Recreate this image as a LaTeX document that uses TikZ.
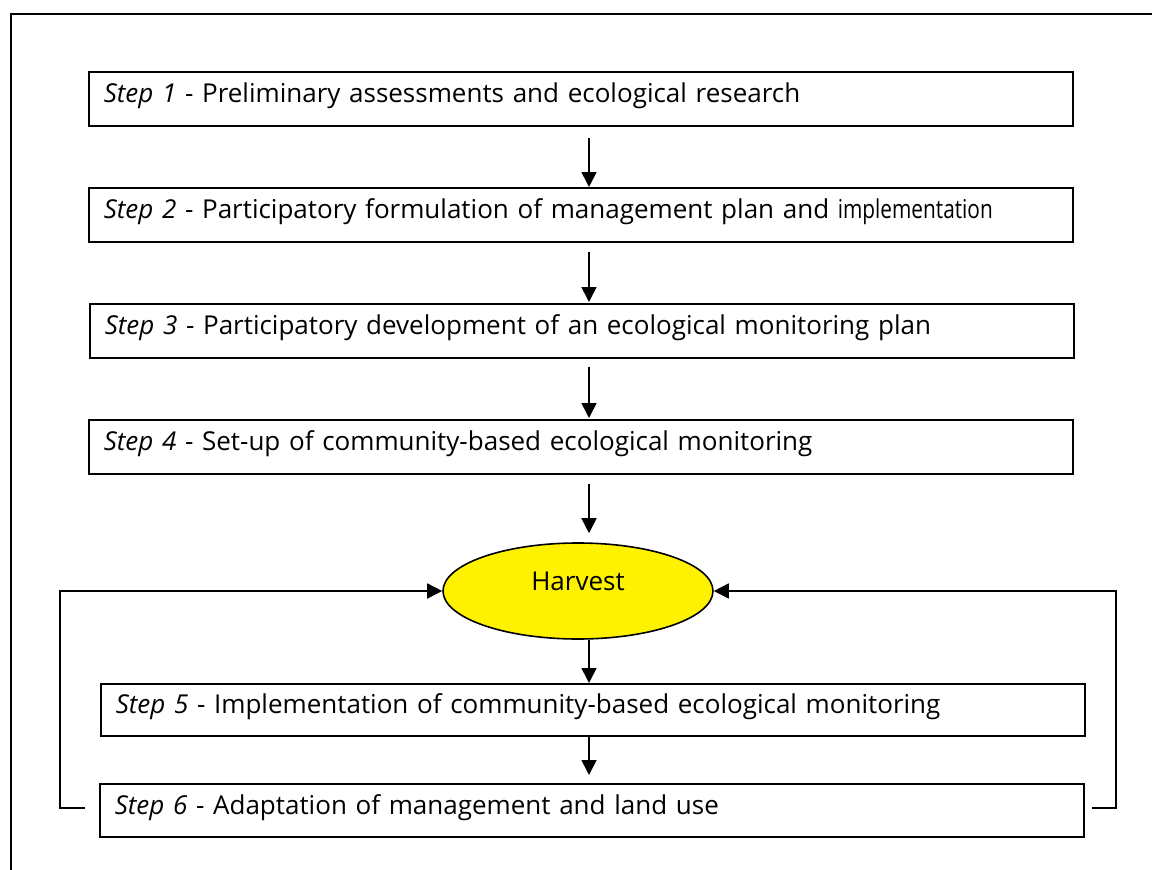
\documentclass[tikz,border=0pt]{standalone}
\usepackage{fontspec}
\setmainfont{Open Sans}
\usetikzlibrary{arrows.meta,shapes.geometric}
\tikzset{
	stepbox/.style={draw, line width=1.6pt, rectangle, anchor=north west, minimum height=54pt, text width=954pt, inner xsep=15pt, align=left, text height=18pt, text depth=10pt, font=\fontsize{26}{30}\selectfont},
	flow/.style={line width=1.6pt, -{Triangle[length=15pt,width=15pt]}},
}
\begin{document}
\begin{tikzpicture}[x=1pt,y=-1pt]
		\useasboundingbox (0,0) rectangle (1152,870);
		% frame
		\draw[line width=2pt] (11,875) -- (11,14) -- (1160,14);
		% steps
		\node[stepbox] (s1) at (88,71) {\textit{Step 1} - Preliminary assessments and ecological research};
		\node[stepbox] (s2) at (88,187) {\textit{Step 2} - Participatory formulation of management plan and \scalebox{0.8}[1]{implementation}};
		\node[stepbox] (s3) at (89,303) {\textit{Step 3} - Participatory development of an ecological monitoring plan};
		\node[stepbox] (s4) at (88,419) {\textit{Step 4} - Set-up of community-based ecological monitoring};
		\node[draw, line width=1.6pt, ellipse, fill=yellow, minimum width=270pt, minimum height=96pt, text depth=19pt, font=\fontsize{26}{30}\selectfont] (h) at (578,591) {Harvest};
		\node[stepbox, minimum height=52pt] (s5) at (100,683) {\textit{Step 5} - Implementation of community-based ecological monitoring};
		\node[stepbox, minimum height=53pt] (s6) at (99,783) {\textit{Step 6} - Adaptation of management and land use};
		% arrows
		\coordinate (ax) at (589,0);
		\draw[flow, shorten <=11pt] (s1.south -| ax) -- (s2.north -| ax);
		\draw[flow, shorten <=9pt, shorten >=1pt] (s2.south -| ax) -- (s3.north -| ax);
		\draw[flow, shorten <=8pt, shorten >=1pt] (s3.south -| ax) -- (s4.north -| ax);
		\draw[flow, shorten <=9pt, shorten >=9pt] (s4.south -| ax) -- (h.north -| ax);
		\draw[flow] (h.south -| ax) -- (s5.north -| ax);
		\draw[flow, shorten >=8pt] (s5.south -| ax) -- (s6.north -| ax);
		% feedback loops
		\coordinate (lback) at (85,808);
		\coordinate (rback) at (1092,808);
		\draw[flow] (lback) -- ++(-25,0) |- (h.west);
		\draw[flow] (rback) -- ++(24,0) |- (h.east);
	\end{tikzpicture}
\end{document}
